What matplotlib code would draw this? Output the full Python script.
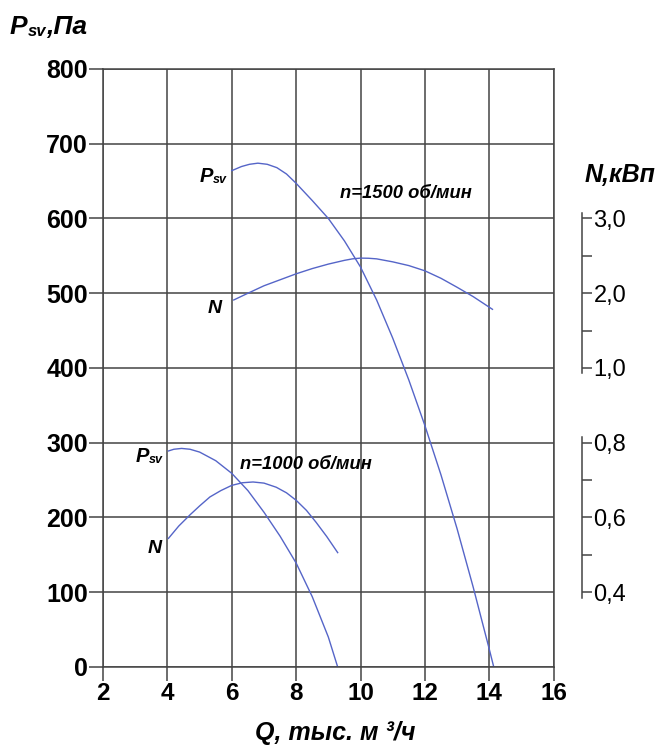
import matplotlib
matplotlib.use("Agg")
import matplotlib.pyplot as plt
from matplotlib.ticker import FixedLocator, NullFormatter

plt.rcParams['font.family'] = ['Liberation Sans', 'DejaVu Sans']

# n = 1500 rpm: static pressure, Pa
q_p1500 = [6.0, 6.3, 6.55, 6.81, 7.1, 7.4, 7.7, 8.0, 8.5, 9.0, 9.5, 10.0,
           10.5, 11.0, 11.5, 12.0, 12.5, 13.0, 13.5, 14.0, 14.14]
p_1500 = [664, 669.5, 672.5, 674, 672.5, 668, 659.5, 647, 624, 600, 570, 535,
          491, 440, 384, 323, 257, 185, 107, 24, 0]
# n = 1500 rpm: power, kW
q_n1500 = [6.06, 6.5, 7.0, 7.5, 8.0, 8.5, 9.0, 9.5, 9.75, 10.0, 10.25, 10.5,
           11.0, 11.5, 12.0, 12.5, 13.0, 13.5, 14.1]
n_1500 = [1.91, 2.0, 2.10, 2.18, 2.26, 2.33, 2.39, 2.44, 2.46, 2.47, 2.468,
          2.46, 2.42, 2.37, 2.30, 2.20, 2.08, 1.955, 1.785]

# n = 1000 rpm: static pressure, Pa
q_p1000 = [4.03, 4.2, 4.44, 4.7, 5.0, 5.5, 6.0, 6.5, 7.0, 7.5, 8.0, 8.5,
           9.0, 9.29]
p_1000 = [289, 291.3, 292.4, 291.3, 287.5, 276, 259, 236, 207, 175, 139, 94,
          40, 0]
# n = 1000 rpm: power, kW
q_n1000 = [4.03, 4.35, 4.70, 5.0, 5.32, 5.66, 6.0, 6.33, 6.66, 7.0, 7.38,
           7.7, 8.0, 8.32, 8.62, 8.95, 9.29]
n_1000 = [0.544, 0.577, 0.607, 0.631, 0.655, 0.672, 0.686, 0.693, 0.695,
          0.692, 0.681, 0.666, 0.646, 0.619, 0.587, 0.549, 0.506]

x_ticks = [2, 4, 6, 8, 10, 12, 14, 16]
y_ticks = [0, 100, 200, 300, 400, 500, 600, 700, 800]
n_hi_ticks = [1.0, 2.0, 3.0]
n_hi_labels = ["1,0", "2,0", "3,0"]
n_lo_ticks = [0.4, 0.6, 0.8]
n_lo_labels = ["0,4", "0,6", "0,8"]

grid_c = "#444444"
curve_c = "#5565c8"

fig = plt.figure(figsize=(6.63, 7.45), dpi=100)
ax = fig.add_axes([0.1555, 0.1047, 0.6795, 0.8027])
ax.set_xlim(2, 16)
ax.set_ylim(0, 800)
ax.set_xticks(x_ticks)
ax.set_yticks(y_ticks)
ax.set_xticklabels([str(v) for v in x_ticks], fontsize=17.5, fontweight='bold')
ax.set_yticklabels([str(v) for v in y_ticks], fontsize=18, fontweight='bold')
ax.tick_params(direction='out', length=10, width=1.1, color=grid_c, pad=1)
ax.grid(True, color=grid_c, linewidth=1.1)
for s in ax.spines.values():
    s.set_color(grid_c)
    s.set_linewidth(1.1)
ax.set_axisbelow(True)

ax.plot(q_p1500, p_1500, color=curve_c, lw=1.0)
ax.plot(q_p1000, p_1000, color=curve_c, lw=1.0)

# power scales: upper N = (P - 300) / 100, lower N = 0.4 + (P - 100) / 500
ax_hi = ax.twinx()
ax_hi.set_ylim(-3, 5)
ax_lo = ax.twinx()
ax_lo.set_ylim(0.2, 1.8)
for a, ticks, labels, bounds, minor in [
        (ax_hi, n_hi_ticks, n_hi_labels, (0.93, 3.07), [1.5, 2.5]),
        (ax_lo, n_lo_ticks, n_lo_labels, (0.385, 0.815), [0.5, 0.7])]:
    for k in ('top', 'bottom', 'left'):
        a.spines[k].set_visible(False)
    a.spines['right'].set_position(('axes', 1.064))
    a.spines['right'].set_bounds(*bounds)
    a.spines['right'].set_color(grid_c)
    a.spines['right'].set_linewidth(1.1)
    a.set_yticks(ticks)
    a.set_yticklabels(labels, fontsize=17)
    a.yaxis.set_minor_locator(FixedLocator(minor))
    a.yaxis.set_minor_formatter(NullFormatter())
    a.tick_params(axis='y', which='both', direction='out', length=7,
                  width=1.1, color=grid_c, pad=1)

ax_hi.plot(q_n1500, n_1500, color=curve_c, lw=1.0)
ax_lo.plot(q_n1000, n_1000, color=curve_c, lw=1.0)

lab = dict(fontweight='bold', fontstyle='italic', color='black')


def p_sv(x, y, size):
    t = ax.text(x, y, "P", fontsize=size, va='baseline', ha='left', **lab)
    ax.annotate("sv", xy=(1.0, 0.0), xycoords=t, fontsize=size * 0.62,
                va='bottom', ha='left', **lab)


p_sv(5.0, 649, 14.5)
p_sv(3.0, 274, 14.5)
ax.text(5.48, 474, "N", fontsize=14, ha='center', va='baseline', **lab)
ax.text(3.61, 152, "N", fontsize=14, ha='center', va='baseline', **lab)
ax.text(11.41, 627, "n=1500 об/мин", fontsize=13.2, ha='center', va='baseline', **lab)
ax.text(8.3, 265, "n=1000 об/мин", fontsize=13.2, ha='center', va='baseline', **lab)

# axis titles
t = fig.text(10 / 663, 1 - 34 / 745, "P", fontsize=19, va='baseline', ha='left', **lab)
a1 = ax.annotate("sv", xy=(1.0, 0.0), xycoords=t, fontsize=12,
                 va='bottom', ha='left', annotation_clip=False, **lab)
ax.annotate(",Па", xy=(1.0, 0.0), xycoords=a1, fontsize=19,
            va='bottom', ha='left', annotation_clip=False, **lab)
fig.text(620 / 663, 1 - 182 / 745, "N,кВп", fontsize=18, ha='center',
         va='baseline', **lab)
fig.text(335 / 663, 1 - 740 / 745, "Q, тыс. м ³/ч", fontsize=18, ha='center',
         va='baseline', **lab)

fig.savefig("out.png", dpi=100)
